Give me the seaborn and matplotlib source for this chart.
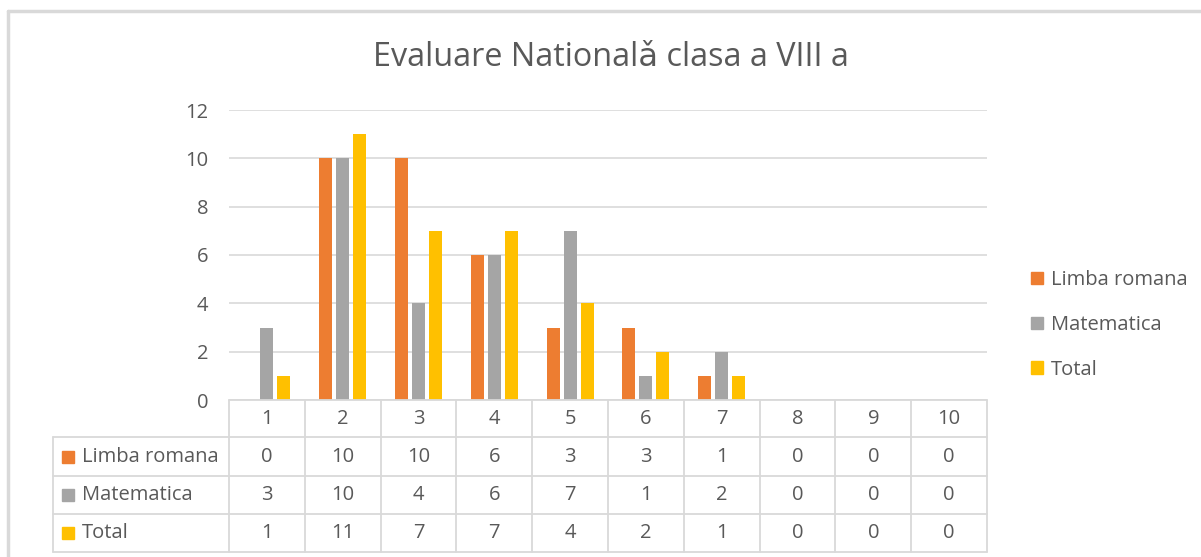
import matplotlib
matplotlib.use("Agg")
import matplotlib.pyplot as plt
from matplotlib.lines import Line2D
from matplotlib.patches import Rectangle
import seaborn as sns
import pandas as pd

# Grades 1..10 and number of students per grade
categories = ["1", "2", "3", "4", "5", "6", "7", "8", "9", "10"]
limba_romana = [0, 10, 10, 6, 3, 3, 1, 0, 0, 0]
matematica = [3, 10, 4, 6, 7, 1, 2, 0, 0, 0]
total = [1, 11, 7, 7, 4, 2, 1, 0, 0, 0]
series_names = ["Limba romana", "Matematica", "Total"]
series_values = [limba_romana, matematica, total]
colors = ["#ED7D31", "#A5A5A5", "#FFC000"]
title = "Evaluare Nationalǎ clasa a VIII a"
y_ticks = [0, 2, 4, 6, 8, 10, 12]

sns.set_theme(style="white")
plt.rcParams["font.family"] = ["Open Sans", "DejaVu Sans"]
text_color = "#595959"
line_color = "#D9D9D9"
fs = 14.5

W, H = 1201, 557
fig = plt.figure(figsize=(W / 100, H / 100), dpi=100)

def fx(px):
    return px / W

def fy(py):
    return 1 - py / H

ax_left, ax_right, ax_top, ax_bottom = 229, 987, 110, 400
ax = fig.add_axes([fx(ax_left), fy(ax_bottom), fx(ax_right - ax_left), fy(ax_top) - fy(ax_bottom)])

df = pd.DataFrame({
    "grade": categories * len(series_names),
    "subject": [s for s in series_names for _ in categories],
    "count": [v for vals in series_values for v in vals],
})

sns.barplot(data=df, x="grade", y="count", hue="subject", order=categories,
            hue_order=series_names, palette=colors, width=0.675, gap=0.235,
            saturation=1, linewidth=0, ax=ax, legend=False)

ax.set_ylim(0, 12)
ax.set_xlim(-0.5, len(categories) - 0.5)
ax.set_yticks(y_ticks)
ax.set_yticklabels([str(t) for t in y_ticks], fontsize=fs, color=text_color)
ax.tick_params(axis="y", length=0, pad=15)
ax.set_xticks([])
ax.set_xlabel("")
ax.set_ylabel("")
for s in ax.spines.values():
    s.set_visible(False)
ax.yaxis.grid(True, color=line_color, linewidth=1.2)
ax.set_axisbelow(True)

fig.text(fx(611), fy(57), title, ha="center", va="center", fontsize=23.3, color=text_color)

# Data table under the plot
col_w = (ax_right - ax_left) / len(categories)
row_edges = [400, 437, 476, 514, 552]
hdr_left = 53

def hline(x0, x1, y):
    fig.add_artist(Line2D([fx(x0), fx(x1)], [fy(y), fy(y)], color=line_color, lw=1.3))

def vline(x, y0, y1):
    fig.add_artist(Line2D([fx(x), fx(x)], [fy(y0), fy(y1)], color=line_color, lw=1.3))

hline(ax_left, ax_right, row_edges[0])
for y in row_edges[1:]:
    hline(hdr_left, ax_right, y)
for i in range(len(categories) + 1):
    vline(ax_left + i * col_w, row_edges[0], row_edges[-1])
vline(hdr_left, row_edges[1], row_edges[-1])

for i, c in enumerate(categories):
    cx = ax_left + (i + 0.5) * col_w
    fig.text(fx(cx), fy((row_edges[0] + row_edges[1]) / 2), c, ha="center", va="center",
             fontsize=fs, color=text_color)
    for r, vals in enumerate(series_values):
        cy = (row_edges[r + 1] + row_edges[r + 2]) / 2
        fig.text(fx(cx), fy(cy), str(vals[i]), ha="center", va="center",
                 fontsize=fs, color=text_color)

for r, (name, col) in enumerate(zip(series_names, colors)):
    cy = (row_edges[r + 1] + row_edges[r + 2]) / 2
    fig.add_artist(Rectangle((fx(62), fy(cy + 6)), fx(12), fy(0) - fy(12), color=col,
                             transform=fig.transFigure))
    fig.text(fx(82), fy(cy), name, ha="left", va="center", fontsize=fs, color=text_color)

# Legend
handles = [Rectangle((0, 0), 1, 1, color=c) for c in colors]
fig.legend(handles, series_names, loc="center left", bbox_to_anchor=(fx(1013), fy(325)),
           frameon=False, fontsize=fs, labelcolor=text_color, handlelength=0.6,
           handleheight=0.6, handletextpad=0.4, labelspacing=1.24)

# Chart area border
fig.add_artist(Line2D([fx(8), fx(8)], [fy(11), fy(H + 5)], color="#D9D9D9", lw=2.5))
fig.add_artist(Line2D([fx(8), fx(W + 5)], [fy(11), fy(11)], color="#D9D9D9", lw=2.5))

fig.savefig("out.png", dpi=100, facecolor="white")
